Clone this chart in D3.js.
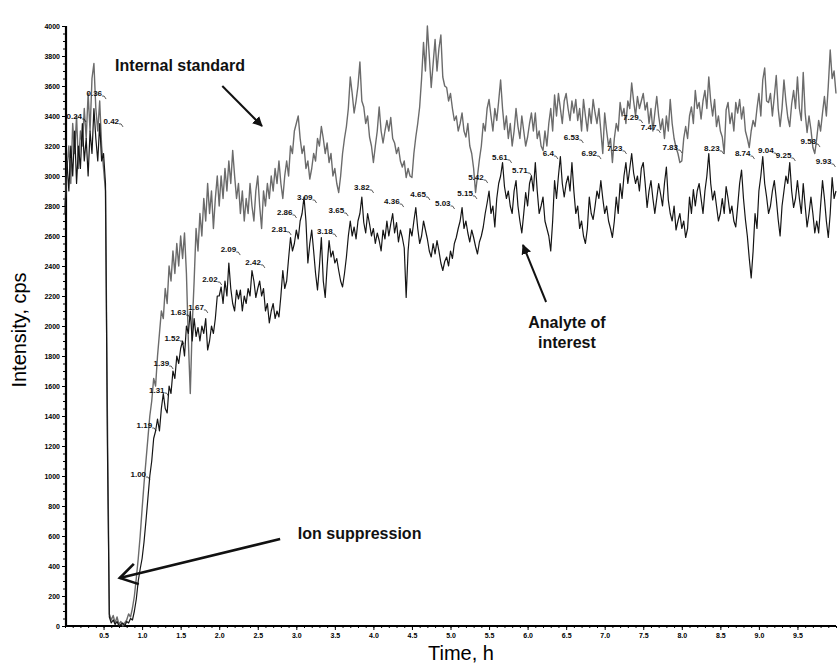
<!DOCTYPE html>
<html>
<head>
<meta charset="utf-8">
<script src="https://cdn.jsdelivr.net/npm/d3@7"></script>
<style>
  body { margin: 0; background: #fff; }
  svg { display: block; }
  .tick text { font-family: "Liberation Sans", Arial, sans-serif; font-weight: bold; }
</style>
</head>
<body>
<div id="chart"></div>
<script>
// sampling step of both traces, hours
const step = 0.025;

// Internal standard trace (grey), one row per 0.5 h
const internalStandard = [
  2800, 3050, 3200, 2950, 3350, 3150, 3400, 3050, 3300, 3200, 3450, 3250, 3550, 3300, 3650, 3750, 3450, 3300, 3500, 3200,
  3050, 2900, 1400, 80, 40, 70, 20, 60, 10, 30, 0, 20, 40, 80, 60, 120, 200, 320, 450, 600,
  780, 950, 1100, 1250, 1400, 1500, 1650, 1600, 1800, 1950, 2100, 2050, 2250, 2150, 2400, 2300, 2500, 2350, 2550, 2400,
  2600, 2450, 2620, 2350, 1900, 1550, 2000, 2300, 2650, 2500, 2750, 2600, 2850, 2700, 2950, 2750, 2900, 2650, 2850, 3000,
  2800, 3000, 2850, 3050, 2900, 3100, 2950, 3170, 3000, 2850, 2950, 2750, 2900, 2700, 2850, 2750, 2950, 2800, 2700, 2900,
  3000, 2800, 2650, 2900, 2800, 2950, 2850, 3000, 2900, 3050, 2950, 3100, 2950, 2850, 3000, 3100, 3000, 3200, 3150, 3300,
  3350, 3400, 3250, 3150, 3200, 3050, 3100, 2980, 3050, 3150, 3100, 3250, 3200, 3330, 3250, 3150, 3220, 3090, 3150, 3000,
  3050, 2950, 2890, 3000, 3150, 3250, 3330, 3450, 3660, 3550, 3420, 3500, 3600, 3760, 3500, 3460, 3350, 3400, 3260, 3200,
  3090, 3200, 3300, 3460, 3300, 3220, 3300, 3370, 3300, 3390, 3250, 3220, 3150, 3190, 3100, 3060, 3100, 2990, 3050, 3000,
  2990, 3150, 3260, 3350, 3460, 3650, 3890, 3700, 4000, 3800, 3590, 3750, 3910, 3700, 3850, 3940, 3660, 3600, 3590, 3500,
  3550, 3450, 3370, 3400, 3300, 3350, 3420, 3300, 3260, 3350, 3200, 3150, 3050, 2890, 3000, 3110, 3200, 3350, 3300, 3450,
  3510, 3400, 3300, 3450, 3370, 3500, 3640, 3450, 3310, 3400, 3250, 3350, 3200, 3300, 3450, 3330, 3250, 3400, 3300, 3200,
  3260, 3350, 3420, 3300, 3420, 3250, 3300, 3200, 3170, 3300, 3200, 3350, 3450, 3300, 3540, 3400, 3550, 3450, 3350, 3500,
  3550, 3450, 3370, 3500, 3420, 3510, 3370, 3450, 3300, 3510, 3400, 3300, 3450, 3350, 3510, 3420, 3350, 3450, 3300, 3150,
  3420, 3300, 3200, 3250, 3090, 3250, 3350, 3300, 3490, 3400, 3450, 3350, 3500, 3450, 3620, 3500, 3400, 3530, 3450, 3500,
  3550, 3440, 3490, 3350, 3450, 3300, 3420, 3530, 3400, 3310, 3380, 3250, 3400, 3300, 3510, 3350, 3250, 3190, 3150, 3090,
  3100, 3250, 3330, 3250, 3400, 3460, 3350, 3570, 3450, 3490, 3380, 3500, 3570, 3450, 3660, 3500, 3400, 3510, 3330, 3400,
  3300, 3260, 3150, 3440, 3490, 3350, 3420, 3300, 3490, 3420, 3510, 3380, 3460, 3300, 3250, 3190, 3300, 3370, 3330, 3450,
  3550, 3400, 3640, 3720, 3500, 3490, 3550, 3400, 3530, 3670, 3450, 3330, 3450, 3640, 3500, 3390, 3330, 3480, 3570, 3450,
  3660, 3450, 3370, 3690, 3420, 3290, 3400, 3310, 3190, 3150, 3250, 3370, 3300, 3420, 3530, 3400, 3600, 3840, 3650, 3700,
  3550
];

// Analyte of interest trace (black)
const analyte = [
  2750, 3100, 2900, 3200, 3000, 3300, 2950, 3200, 3050, 3350, 3100, 3250, 3000, 3300, 3150, 3450, 3250, 3100, 3350, 3100,
  3150, 2950, 1200, 60, 20, 40, 10, 30, 0, 10, 20, 0, 30, 20, 50, 40, 100, 180, 300, 380,
  450, 560, 700, 850, 1000, 1100, 1250, 1300, 1380, 1300, 1450, 1550, 1450, 1420, 1600, 1550, 1700, 1650, 1800, 1750,
  1850, 1900, 1800, 2000, 1950, 2100, 1900, 2050, 1930, 1990, 1900, 2000, 1950, 2050, 1840, 1900, 2000, 1950, 2050, 2200,
  2200, 2260, 2150, 2300, 2200, 2420, 2250, 2150, 2100, 2240, 2180, 2240, 2100, 2200, 2150, 2250, 2200, 2370, 2300, 2190,
  2250, 2300, 2200, 2250, 2100, 2150, 2020, 2100, 2150, 2050, 2100, 2060, 2200, 2370, 2250, 2300, 2450, 2590, 2500, 2550,
  2640, 2580, 2700, 2750, 2860, 2700, 2420, 2550, 2640, 2500, 2350, 2240, 2400, 2590, 2300, 2190, 2400, 2570, 2460, 2500,
  2420, 2450, 2370, 2300, 2260, 2350, 2460, 2600, 2700, 2600, 2660, 2580, 2700, 2750, 2860, 2690, 2620, 2750, 2680, 2600,
  2650, 2550, 2620, 2570, 2500, 2640, 2580, 2700, 2600, 2680, 2750, 2620, 2690, 2560, 2640, 2590, 2520, 2190, 2500, 2650,
  2600, 2700, 2790, 2650, 2550, 2600, 2700, 2640, 2580, 2500, 2460, 2550, 2480, 2570, 2500, 2420, 2370, 2430, 2460, 2400,
  2500, 2450, 2550, 2590, 2650, 2700, 2790, 2650, 2700, 2620, 2560, 2640, 2590, 2530, 2480, 2560, 2600, 2660, 2750, 2820,
  2900, 2750, 2800, 2660, 2850, 2950, 3000, 3090, 2930, 2850, 2900, 2800, 2750, 2900, 2970, 2800, 2700, 2620, 2750, 2890,
  2800, 2950, 3000, 2900, 3090, 2900, 2750, 2800, 2860, 2700, 2650, 2600, 2500, 2700, 2970, 2850, 3000, 3130, 2950, 2860,
  2950, 3000, 2900, 3090, 2900, 2750, 2800, 2650, 2700, 2600, 2550, 2650, 2860, 2750, 2710, 2800, 2900, 2850, 2970, 2850,
  2750, 2800, 2700, 2650, 2590, 2700, 2860, 2750, 2950, 2850, 3000, 3090, 2950, 3050, 3150, 3020, 2950, 3000, 2900, 3050,
  3090, 2950, 2790, 2900, 2970, 2850, 2750, 2850, 2950, 2880, 2800, 2950, 3060, 2840, 2750, 2700, 2800, 2640, 2700, 2750,
  2650, 2700, 2590, 2650, 2860, 2750, 2910, 2800, 2900, 2950, 2850, 2750, 2900, 3000, 3150, 2950, 2840, 2900, 2800, 2700,
  2750, 2850, 2750, 2930, 2850, 2750, 2800, 2700, 2660, 2800, 2950, 3040, 2850, 2710, 2600, 2450, 2320, 2500, 2750, 2650,
  2900, 3000, 3130, 2950, 2860, 2750, 2800, 2900, 2970, 2850, 2710, 2600, 2800, 2900, 3000, 2950, 3090, 2900, 2790, 2850,
  2970, 2850, 2750, 2950, 2800, 2660, 2750, 2860, 2750, 2620, 2700, 2620, 2800, 2970, 2850, 2700, 2590, 2750, 2990, 2850,
  2900
];

// retention time labels: text, label centre time (h), label level (cps)
const peakText = ["0.24", "0.36", "0.42", "1.00", "1.19", "1.31", "1.39", "1.52", "1.63", "1.67",
  "2.02", "2.09", "2.42", "2.81", "2.86", "3.09", "3.18", "3.65", "3.82", "4.36", "4.65",
  "5.03", "5.15", "5.42", "5.61", "5.71", "6.4", "6.53", "6.92", "7.23", "7.29", "7.47",
  "7.83", "8.23", "8.74", "9.04", "9.25", "9.58", "9.93"];
const peakTime = [0.12, 0.38, 0.60, 0.95, 1.03, 1.19, 1.25, 1.39, 1.47, 1.70,
  1.88, 2.12, 2.44, 2.78, 2.85, 3.11, 3.37, 3.52, 3.85, 4.24, 4.58,
  4.90, 5.19, 5.33, 5.64, 5.90, 6.27, 6.57, 6.80, 7.13, 7.34, 7.57,
  7.85, 8.39, 8.79, 9.09, 9.32, 9.64, 9.84];
const peakLevel = [3400, 3553, 3367, 1013, 1340, 1573, 1753, 1920, 2093, 2127,
  2313, 2513, 2427, 2647, 2760, 2860, 2633, 2773, 2927, 2833, 2880,
  2820, 2887, 2993, 3127, 3040, 3153, 3260, 3153, 3187, 3393, 3327,
  3193, 3187, 3153, 3173, 3140, 3233, 3100];

const yTicks = d3.range(0, 4001, 200);
const xTicks = d3.range(0.5, 9.51, 0.5);

const width = 837, height = 666;
const svg = d3.select("#chart").append("svg")
  .attr("width", width).attr("height", height);

const x = d3.scaleLinear().domain([0, 10]).range([65, 836]);
const y = d3.scaleLinear().domain([0, 4000]).range([626, 26]);

// minor ticks first, then the main axes on top
svg.append("g")
  .attr("transform", `translate(${x(0)},0)`)
  .call(d3.axisLeft(y).tickValues(d3.range(0, 4001, 50)).tickSize(2).tickFormat(""))
  .call(g => g.select(".domain").remove());
svg.append("g")
  .attr("transform", `translate(0,${y(0)})`)
  .call(d3.axisBottom(x).tickValues(d3.range(0, 10.01, 0.1)).tickSize(2).tickFormat(""))
  .call(g => g.select(".domain").remove());

const yAxis = svg.append("g")
  .attr("transform", `translate(${x(0) + 1},0)`)
  .call(d3.axisLeft(y).tickValues(yTicks).tickSize(4).tickPadding(2).tickFormat(d3.format("d")));
yAxis.select(".domain").attr("stroke-width", 2.2).attr("d", `M0,${y(4000)}V${y(0)}`);
yAxis.selectAll("text").style("font-size", "7px");

const xAxis = svg.append("g")
  .attr("transform", `translate(0,${y(0)})`)
  .call(d3.axisBottom(x).tickValues(xTicks).tickSize(4).tickPadding(3).tickFormat(d3.format(".1f")));
xAxis.select(".domain").attr("stroke-width", 1.8).attr("d", `M${x(0)},0H${x(10)}`);
xAxis.selectAll("text").style("font-size", "7px");

// traces
const line = d3.line().x((d, i) => x(i * step)).y(d => y(d));
svg.append("path").datum(internalStandard)
  .attr("d", line).attr("fill", "none")
  .attr("stroke", "#6b6b6b").attr("stroke-width", 1.4).attr("stroke-linejoin", "round");
svg.append("path").datum(analyte)
  .attr("d", line).attr("fill", "none")
  .attr("stroke", "#151515").attr("stroke-width", 1.2).attr("stroke-linejoin", "round");

// retention time labels with little leader hooks
const labels = svg.append("g")
  .style("font-family", "\"Liberation Sans\", Arial, sans-serif")
  .style("font-size", "8px").style("font-weight", "bold");
peakText.forEach((t, i) => {
  const cx = x(peakTime[i]), cy = y(peakLevel[i]);
  const txt = labels.append("text").attr("x", cx).attr("y", cy + 3)
    .attr("text-anchor", "middle").attr("fill", "#111").text(t);
  const w = txt.node().getComputedTextLength();
  labels.append("path")
    .attr("d", `M${cx + w / 2},${cy + 3}h2l2,3`)
    .attr("fill", "none").attr("stroke", "#111").attr("stroke-width", 0.7);
});

// axis titles
svg.append("text")
  .attr("transform", `translate(26,${330}) rotate(-90)`)
  .attr("text-anchor", "middle")
  .style("font-family", "\"Liberation Sans\", Arial, sans-serif").style("font-size", "20px")
  .text("Intensity, cps");
svg.append("text")
  .attr("x", 461).attr("y", 660).attr("text-anchor", "middle")
  .style("font-family", "\"Liberation Sans\", Arial, sans-serif").style("font-size", "20px")
  .text("Time, h");

// annotations
const defs = svg.append("defs");
defs.append("marker").attr("id", "head")
  .attr("viewBox", "0 0 10 10").attr("refX", 9).attr("refY", 5)
  .attr("markerWidth", 5).attr("markerHeight", 5).attr("orient", "auto")
  .append("path").attr("d", "M0,0L10,5L0,10z").attr("fill", "#111");

const note = (tx, ty, lines) => {
  const t = svg.append("text").attr("x", x(tx)).attr("y", y(ty))
    .style("font-family", "\"Liberation Sans\", Arial, sans-serif")
    .style("font-size", "16px").style("font-weight", "bold").attr("fill", "#111");
  lines.forEach((s, i) => t.append("tspan").attr("x", x(tx)).attr("dy", i ? 20 : 0).text(s));
  return t;
};
note(0.65, 3700, ["Internal standard"]);
note(3.02, 580, ["Ion suppression"]);
note(6.51, 1987, ["Analyte of", "interest"]).attr("text-anchor", "middle");

const arrow = (t0, v0, t1, v1) => svg.append("line")
  .attr("x1", x(t0)).attr("y1", y(v0)).attr("x2", x(t1)).attr("y2", y(v1))
  .attr("stroke", "#111").attr("stroke-width", 2).attr("marker-end", "url(#head)");
arrow(2.04, 3600, 2.555, 3333);
arrow(6.24, 2160, 5.94, 2540);

// ion suppression: long arrow with an open head
const ax0 = x(2.79), ay0 = y(580), ax1 = x(0.71), ay1 = y(320);
svg.append("line").attr("x1", ax0).attr("y1", ay0).attr("x2", ax1).attr("y2", ay1)
  .attr("stroke", "#111").attr("stroke-width", 2.6);
const ang = Math.atan2(ay0 - ay1, ax0 - ax1);
const arm = a => [ax1 + 20 * Math.cos(ang + a), ay1 + 20 * Math.sin(ang + a)];
const [p1, p2] = [arm(0.55), arm(-0.55)];
svg.append("path")
  .attr("d", `M${p1[0]},${p1[1]}L${ax1},${ay1}L${p2[0]},${p2[1]}`)
  .attr("fill", "none").attr("stroke", "#111").attr("stroke-width", 2.6);
</script>
</body>
</html>
